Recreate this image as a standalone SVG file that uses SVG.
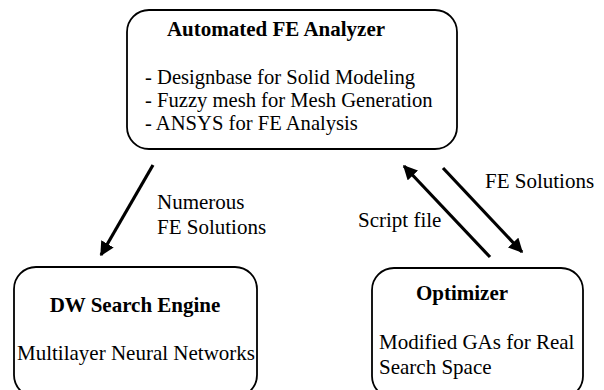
<svg xmlns="http://www.w3.org/2000/svg" width="604" height="390" viewBox="0 0 604 390">
<defs>
<style>
.box{fill:#fff;stroke:#000;stroke-width:1.8}
.t{font-family:"Liberation Serif","Times New Roman",serif;font-size:21px;fill:#000}
.l{font-size:20.6px}
.b{font-weight:bold;font-size:21px}
.c{stroke:#000;stroke-width:3.2;fill:none}
</style>
<marker id="ah" viewBox="0 0 10 10" refX="9" refY="5" markerWidth="4.5" markerHeight="4.5" orient="auto" markerUnits="strokeWidth">
<path d="M0,0 L10,5 L0,10 z" fill="#000"/>
</marker>
</defs>
<rect width="604" height="390" fill="#fff"/>
<g id="analyzer">
<rect class="box" x="127" y="10" width="330" height="139" rx="22"/>
<text class="t b" x="276" y="36" text-anchor="middle">Automated FE Analyzer</text>
<text class="t l" x="145" y="84">- Designbase for Solid Modeling</text>
<text class="t l" x="145" y="107">- Fuzzy mesh for Mesh Generation</text>
<text class="t l" x="145" y="130">- ANSYS for FE Analysis</text>
</g>
<g id="dw">
<rect class="box" x="14" y="267" width="243" height="130" rx="22"/>
<text class="t b" x="135" y="312" text-anchor="middle">DW Search Engine</text>
<text class="t" x="136" y="360" text-anchor="middle">Multilayer Neural Networks</text>
</g>
<g id="optimizer">
<rect class="box" x="372" y="268" width="211" height="130" rx="22"/>
<text class="t b" x="462" y="300" text-anchor="middle">Optimizer</text>
<text class="t" x="379" y="349">Modified GAs for Real</text>
<text class="t" x="379" y="374">Search Space</text>
</g>
<g id="connectors">
<line class="c" x1="153" y1="165" x2="101" y2="255" marker-end="url(#ah)"/>
<line class="c" x1="490" y1="257" x2="404" y2="166" marker-end="url(#ah)"/>
<line class="c" x1="443" y1="168" x2="522" y2="252" marker-end="url(#ah)"/>
<text class="t" x="157" y="209">Numerous</text>
<text class="t" x="157" y="234">FE Solutions</text>
<text class="t" x="485" y="188">FE Solutions</text>
<text class="t" x="358" y="227">Script file</text>
</g>
</svg>
